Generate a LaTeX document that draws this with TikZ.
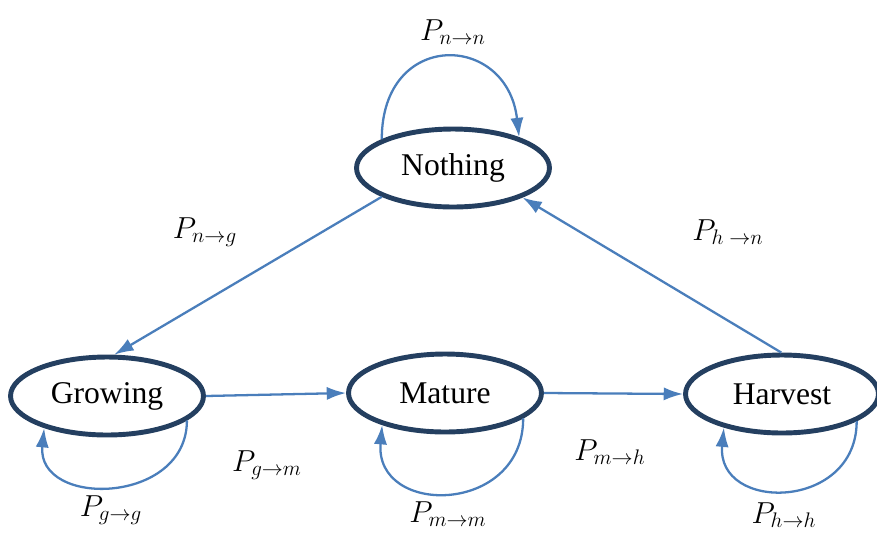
\documentclass[tikz,border=0pt]{standalone}
\usepackage{fontspec}
\setmainfont{Liberation Serif}
\usepackage{tikz}
\usetikzlibrary{arrows.meta,shapes.geometric}
\definecolor{edgeblue}{HTML}{4A7EBB}
\definecolor{statenavy}{HTML}{243F60}
\tikzset{
  stateellipse/.style={ellipse,draw=statenavy,line width=2.8pt,fill=white,
    minimum width=3.86cm,minimum height=1.56cm,inner sep=0pt,
    font=\fontsize{18}{20}\selectfont},
  trans/.style={draw=edgeblue,line width=1.3pt,-{Latex[length=11pt,width=7.5pt]}},
  plabel/.style={font=\fontsize{17.5}{20}\selectfont,inner sep=0pt}
}
\begin{document}
\begin{tikzpicture}[x=0.02cm,y=-0.02cm]
  \useasboundingbox (0,0) rectangle (877,532);
  \node[stateellipse] (nothing) at (453,168) {Nothing};
  \node[stateellipse] (growing) at (107,396) {Growing};
  \node[stateellipse] (mature) at (445,393) {Mature};
  \node[stateellipse] (harvest) at (782,394) {Harvest};
  \draw[trans] (nothing.202) -- (growing.80);
  \draw[trans] (harvest.91) -- (nothing.-23);
  \draw[trans] (growing.east) -- (mature.west);
  \draw[trans] (mature.east) -- (harvest.west);
  \draw[trans] (nothing.158) .. controls +(0,-110) and +(-12,-105) .. (nothing.25);
  \draw[trans] (growing.-17) .. controls +(0,85) and +(-8,80) .. (growing.207);
  \draw[trans] (mature.-18) .. controls +(0,97) and +(-8,92) .. (mature.207);
  \draw[trans] (harvest.-20) .. controls +(0,90) and +(-8,85) .. (harvest.210);
  \node[plabel] (pnn) at (453,32) {$P_{n\to n}$};
  \node[plabel] (png) at (205,232) {$P_{n\to g}$};
  \node[plabel] (phn) at (728,232) {$P_{h\;\to n}$};
  \node[plabel] (pgm) at (267,465) {$P_{g\to m}$};
  \node[plabel] (pgg) at (111,510) {$P_{g\to g}$};
  \node[plabel] (pmm) at (448,514) {$P_{m\to m}$};
  \node[plabel] (pmh) at (610,452) {$P_{m\to h}$};
  \node[plabel] (phh) at (784,515) {$P_{h\to h}$};
\end{tikzpicture}
\end{document}
